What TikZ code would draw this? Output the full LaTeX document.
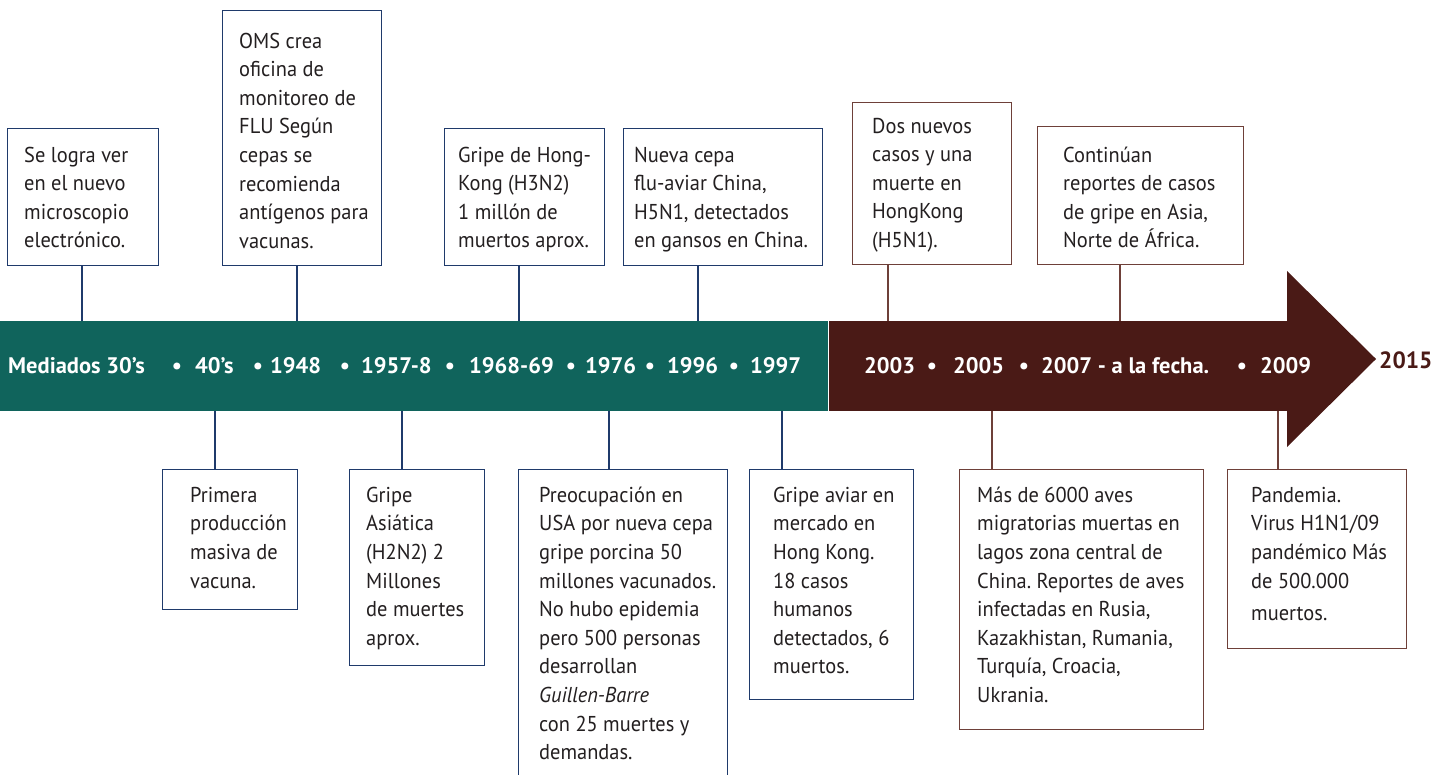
\documentclass[tikz,border=0pt]{standalone}
\usepackage{fontspec}
\setmainfont{PT Sans}
\newfontfamily\bodyfont[FakeStretch=0.95]{PT Sans}
\definecolor{tealband}{HTML}{10645C}
\definecolor{brownband}{HTML}{4A1A16}
\definecolor{navyline}{HTML}{1F3A6B}
\definecolor{brownline}{HTML}{6E4039}
\definecolor{textc}{HTML}{231F20}
\newcommand{\firststrut}{\rule{0pt}{20pt}}
\frenchspacing
\begin{document}
\begin{tikzpicture}[x=1pt,y=-1pt,
  bluebox/.style={draw=navyline, line width=1.3pt, inner sep=0pt, anchor=north west},
  brownbox/.style={draw=brownline, line width=1.3pt, inner sep=0pt, anchor=north west},
  txt/.style={anchor=north west, inner sep=0pt, align=left, text=textc, font=\bodyfont\fontsize{21.5}{28.6}\selectfont\frenchspacing},
  bluelink/.style={draw=navyline, line width=1.3pt},
  brownlink/.style={draw=brownline, line width=1.3pt},
  yr/.style={anchor=base west, inner sep=0pt, text=white, font=\bfseries\fontsize{22.5}{27}\selectfont\frenchspacing},
  dot/.style={anchor=base, inner sep=0pt, text=white, font=\bfseries\fontsize{22.5}{27}\selectfont},
]
\useasboundingbox (0,0) rectangle (1455,775);
\clip (0,0) rectangle (1455,775);
\fill[white] (0,0) rectangle (1455,775);

% bands
\node[fill=tealband, inner sep=0pt, anchor=north west, minimum width=828pt, minimum height=90pt] (band1) at (0,321) {};
\node[fill=brownband, inner sep=0pt, anchor=north west, minimum width=460pt, minimum height=90pt] (band2) at (829,321) {};
\fill[brownband] (1287,321) -- (1287,271) -- (1376,359) -- (1287,447) -- (1287,411) -- cycle;

% band labels
\node[yr] (y1) at (8,373) {Mediados 30’s};
\node[dot] (d1) at (177,373) {•};
\node[yr] (y2) at (195,373) {40’s};
\node[dot] (d2) at (258,373) {•};
\node[yr] (y3) at (270,373) {1948};
\node[dot] (d3) at (345,373) {•};
\node[yr] (y4) at (361,373) {1957-8};
\node[dot] (d4) at (450,373) {•};
\node[yr] (y5) at (469,373) {1968-69};
\node[dot] (d5) at (571,373) {•};
\node[yr] (y6) at (585,373) {1976};
\node[dot] (d6) at (650,373) {•};
\node[yr] (y7) at (667,373) {1996};
\node[dot] (d7) at (734,373) {•};
\node[yr] (y8) at (750,373) {1997};
\node[yr] (y9) at (864,373) {2003};
\node[dot] (d9) at (932,373) {•};
\node[yr] (y10) at (953,373) {2005};
\node[dot] (d10) at (1024,373) {•};
\node[yr] (y11) at (1041,373) {2007 - a la fecha.};
\node[dot] (d11) at (1242,373) {•};
\node[yr] (y12) at (1260,373) {2009};
\node[yr, text=brownband, font=\bfseries\fontsize{23.5}{27}\selectfont] (y13) at (1379,368) {2015};

% top boxes
\node[bluebox, minimum width=151pt, minimum height=137pt] (b1) at (7,128) {};
\node[txt] (t1) at (24,142) {\firststrut Se logra ver\\en el nuevo\\microscopio\\electrónico.};
\node[bluebox, minimum width=159pt, minimum height=255pt] (b2) at (222,10) {};
\node[txt] (t2) at (239,28) {\firststrut OMS crea\\oficina de\\monitoreo de\\FLU Según\\cepas se\\recomienda\\antígenos para\\vacunas.};
\node[bluebox, minimum width=160pt, minimum height=137pt] (b3) at (444,128) {};
\node[txt] (t3) at (458,142) {\firststrut Gripe de Hong-\\Kong (H3N2)\\1 millón de\\muertos aprox.};
\node[bluebox, minimum width=199pt, minimum height=137pt] (b4) at (623,128) {};
\node[txt] (t4) at (634,142) {\firststrut Nueva cepa\\flu-aviar China,\\H5N1, detectados\\en gansos en China.};
\node[brownbox, minimum width=159pt, minimum height=162pt] (b5) at (852,102) {};
\node[txt] (t5) at (872,113) {\firststrut Dos nuevos\\casos y una\\muerte en\\HongKong\\(H5N1).};
\node[brownbox, minimum width=206pt, minimum height=138pt] (b6) at (1037,126) {};
\node[txt] (t6) at (1063,142) {\firststrut Continúan\\reportes de casos\\de gripe en Asia,\\Norte de África.};

% bottom boxes
\node[bluebox, minimum width=135pt, minimum height=140pt] (b7) at (162,469) {};
\node[txt] (t7) at (190,482) {\firststrut Primera\\producción\\masiva de\\vacuna.};
\node[bluebox, minimum width=135pt, minimum height=196pt] (b8) at (349,469) {};
\node[txt] (t8) at (366,482) {\firststrut Gripe\\Asiática\\(H2N2) 2\\Millones\\de muertes\\aprox.};
\node[bluebox, minimum width=209pt, minimum height=330pt] (b9) at (518,469) {};
\node[txt] (t9) at (539,482) {\firststrut Preocupación en\\USA por nueva cepa\\gripe porcina 50\\millones vacunados.\\No hubo epidemia\\pero 500 personas\\desarrollan\\\textit{Guillen-Barre}\\con 25 muertes y\\demandas.};
\node[bluebox, minimum width=164pt, minimum height=230pt] (b10) at (749,469) {};
\node[txt] (t10) at (773,482) {\firststrut Gripe aviar en\\mercado en\\Hong Kong.\\18 casos\\humanos\\detectados, 6\\muertos.};
\node[brownbox, minimum width=244pt, minimum height=260pt] (b11) at (959,469) {};
\node[txt] (t11) at (977,482) {\firststrut Más de 6000 aves\\migratorias muertas en\\lagos zona central de\\China. Reportes de aves\\infectadas en Rusia,\\Kazakhistan, Rumania,\\Turquía, Croacia,\\Ukrania.};
\node[brownbox, minimum width=179pt, minimum height=179pt] (b12) at (1227,469) {};
\node[txt] (t12) at (1251,482) {\firststrut Pandemia.\\Virus H1N1/09\\pandémico Más\\de 500.000\\[4pt]muertos.};

% connector anchor points on the bands
\coordinate (k1) at (82,321);
\coordinate (k2) at (297,321);
\coordinate (k3) at (519,321);
\coordinate (k4) at (698,321);
\coordinate (k5) at (888,321);
\coordinate (k6) at (1120,321);
\coordinate (k7) at (215,411);
\coordinate (k8) at (402,411);
\coordinate (k9) at (609,411);
\coordinate (k10) at (782,411);
\coordinate (k11) at (992,411);
\coordinate (k12) at (1278,411);

\draw[bluelink] (k1 |- b1.south) -- (k1 |- band1.north);
\draw[bluelink] (k2 |- b2.south) -- (k2 |- band1.north);
\draw[bluelink] (k3 |- b3.south) -- (k3 |- band1.north);
\draw[bluelink] (k4 |- b4.south) -- (k4 |- band1.north);
\draw[brownlink] (k5 |- b5.south) -- (k5 |- band2.north);
\draw[brownlink] (k6 |- b6.south) -- (k6 |- band2.north);
\draw[bluelink] (k7 |- band1.south) -- (k7 |- b7.north);
\draw[bluelink] (k8 |- band1.south) -- (k8 |- b8.north);
\draw[bluelink] (k9 |- band1.south) -- (k9 |- b9.north);
\draw[bluelink] (k10 |- band1.south) -- (k10 |- b10.north);
\draw[brownlink] (k11 |- band2.south) -- (k11 |- b11.north);
\draw[brownlink] (k12 |- band2.south) -- (k12 |- b12.north);
\end{tikzpicture}
\end{document}
